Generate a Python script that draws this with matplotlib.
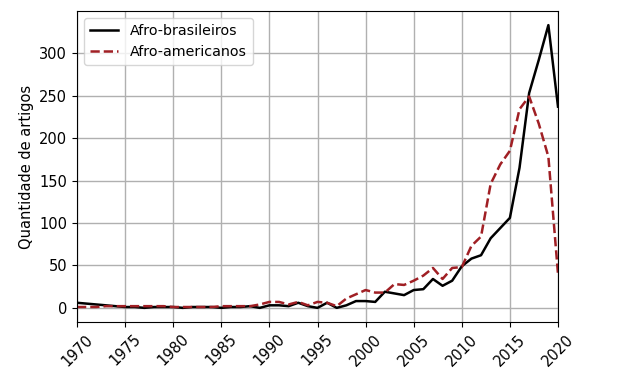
import matplotlib
matplotlib.use("Agg")
import matplotlib.pyplot as plt

years = list(range(1970, 2021))
afro_brasileiros = [6, 5, 4, 3, 2, 1, 1, 0, 1, 1,
                    1, 0, 1, 1, 1, 0, 1, 1, 2, 0,
                    3, 3, 2, 6, 2, 0, 6, 0, 3, 8,
                    8, 7, 19, 17, 15, 21, 22, 34, 26, 32,
                    49, 58, 62, 82, 94, 106, 165, 253, 292, 333,
                    237]
afro_americanos = [1, 1, 1, 2, 2, 2, 2, 2, 2, 2,
                   1, 1, 1, 1, 1, 2, 2, 2, 2, 4,
                   7, 7, 4, 7, 3, 7, 6, 2, 11, 16,
                   21, 18, 18, 28, 27, 32, 38, 47, 34, 47,
                   48, 73, 84, 146, 169, 185, 234, 249, 217, 178,
                   40]

fig = plt.figure(figsize=(6.2, 3.73), dpi=100)
ax = fig.add_axes([77/620, 1-322/373, (558-77)/620, (322-11)/373])
ax.plot(years, afro_brasileiros, color='black', linestyle='-', linewidth=1.8, label='Afro-brasileiros')
ax.plot(years, afro_americanos, color='#a01f24', linestyle='--', linewidth=1.8, label='Afro-americanos')
ax.set_xlim(1970, 2020)
ax.set_xticks(range(1970, 2021, 5))
ax.set_yticks([0, 50, 100, 150, 200, 250, 300])
ax.grid(True, color='#b0b0b0', linewidth=1)
ax.set_ylabel('Quantidade de artigos', fontsize=10.5)
for lbl in ax.get_xticklabels():
    lbl.set_rotation(45)
ax.tick_params(labelsize=10.5)
ax.legend(loc='upper left', fontsize=10.3)
fig.savefig('out.png', dpi=100)
